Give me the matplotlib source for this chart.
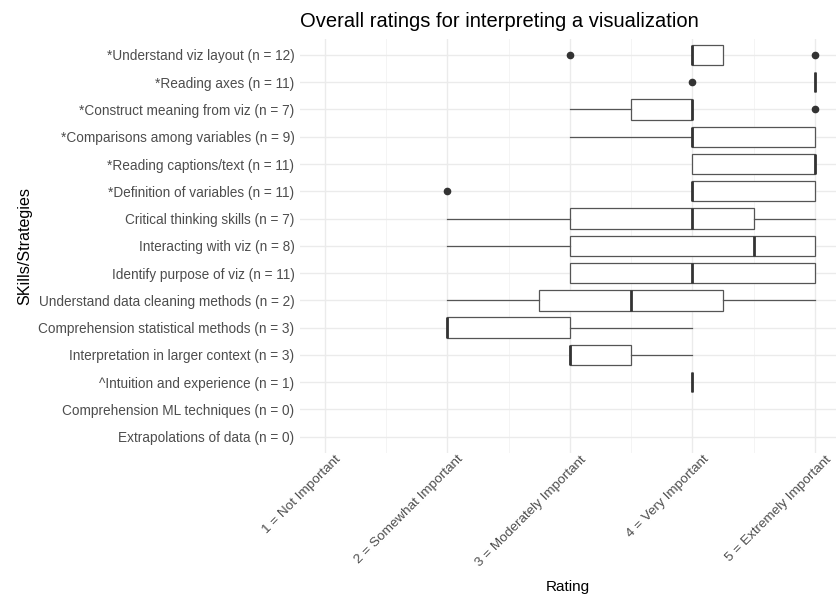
import matplotlib
matplotlib.use("Agg")
import matplotlib.pyplot as plt
import matplotlib.transforms as mtransforms
import numpy as np

plt.rcParams['font.family'] = ['Liberation Sans', 'DejaVu Sans']

categories = [
    "*Understand viz layout (n = 12)",
    "*Reading axes (n = 11)",
    "*Construct meaning from viz (n = 7)",
    "*Comparisons among variables (n = 9)",
    "*Reading captions/text (n = 11)",
    "*Definition of variables (n = 11)",
    "Critical thinking skills (n = 7)",
    "Interacting with viz (n = 8)",
    "Identify purpose of viz (n = 11)",
    "Understand data cleaning methods (n = 2)",
    "Comprehension statistical methods (n = 3)",
    "Interpretation in larger context (n = 3)",
    "^Intuition and experience (n = 1)",
    "Comprehension ML techniques (n = 0)",
    "Extrapolations of data (n = 0)",
]
# box statistics (None = no data)
whislo = [4, 5, 3, 3, 4, 4, 2, 2, 3, 2, 2, 3, 4, None, None]
q1 =     [4, 5, 3.5, 4, 4, 4, 3, 3, 3, 2.75, 2, 3, 4, None, None]
med =    [4, 5, 4, 4, 5, 4, 4, 4.5, 4, 3.5, 2, 3, 4, None, None]
q3 =     [4.25, 5, 4, 5, 5, 5, 4.5, 5, 5, 4.25, 3, 3.5, 4, None, None]
whishi = [4.25, 5, 4, 5, 5, 5, 5, 5, 5, 5, 4, 4, 4, None, None]
fliers = [[3, 5], [4], [5], [], [], [2], [], [], [], [], [], [], [], [], []]

tick_vals = [1, 2, 3, 4, 5]
tick_labels = ["1 = Not Important", "2 = Somewhat Important", "3 = Moderately Important",
               "4 = Very Important", "5 = Extremely Important"]

fig = plt.figure(figsize=(8.36, 5.99), dpi=100)
ax = fig.add_axes([300/836, 146/599, 1 - 300/836, (453-38.6)/599])

n = len(categories)
ypos = np.arange(n)[::-1]  # top category at top

stats, positions = [], []
for i in range(n):
    if med[i] is None:
        continue
    stats.append(dict(whislo=whislo[i], q1=q1[i], med=med[i], q3=q3[i],
                      whishi=whishi[i], fliers=fliers[i]))
    positions.append(ypos[i])

edge = '#333333'
ax.bxp(stats, positions=positions, vert=False, widths=0.75, showcaps=False,
       patch_artist=True,
       boxprops=dict(facecolor='white', edgecolor='#555555', linewidth=0.9),
       whiskerprops=dict(color='#555555', linewidth=0.9),
       medianprops=dict(color=edge, linewidth=2.0, solid_capstyle='butt'),
       flierprops=dict(marker='o', markerfacecolor=edge, markeredgecolor=edge,
                       markersize=4.5))

ax.set_xlim(0.8, 5.17)
ax.set_ylim(-0.6, n - 1 + 0.6)
ax.set_yticks(ypos)
ax.set_yticklabels(categories, fontsize=9.8, color='#4d4d4d')
ax.set_xticks(tick_vals)
ax.set_xticklabels([])
lab_trans = ax.get_xaxis_transform() + mtransforms.ScaledTranslation(
    0.10, -0.005, fig.dpi_scale_trans)
for v, lab in zip(tick_vals, tick_labels):
    ax.text(v, 0, lab, transform=lab_trans, rotation=45, ha='right', va='top',
            rotation_mode='anchor', fontsize=9.7, color='#4d4d4d', clip_on=False)
ax.set_xticks([1.5, 2.5, 3.5, 4.5], minor=True)
ax.tick_params(axis='both', which='both', length=0, pad=4)

ax.grid(True, which='major', color='#ebebeb', linewidth=1.0)
ax.grid(True, which='minor', axis='x', color='#f2f2f2', linewidth=0.6)
ax.set_axisbelow(True)
for s in ax.spines.values():
    s.set_visible(False)

ax.set_xlabel("Rating", fontsize=11)
ax.xaxis.set_label_coords(0.5, (12 - 146) / 414.4)
ax.xaxis.label.set_va('center')
ax.set_ylabel("SKills/Strategies", fontsize=11.6, labelpad=4)
ax.set_title("Overall ratings for interpreting a visualization", fontsize=14.5,
             loc='left', pad=8)

fig.savefig("out.png", dpi=100)
